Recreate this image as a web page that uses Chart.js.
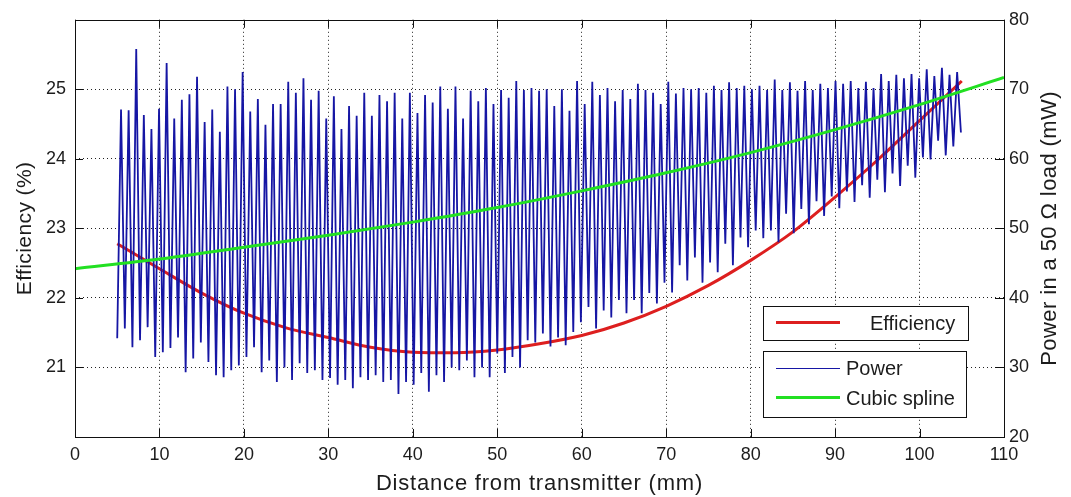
<!DOCTYPE html>
<html>
<head>
<meta charset="utf-8">
<title>Efficiency and power vs distance</title>
<script src="https://cdn.jsdelivr.net/npm/chart.js@4.4.1/dist/chart.umd.min.js"></script>
<style>
  html, body { margin: 0; padding: 0; background: #fff; }
  #wrap { width: 1071px; height: 497px; }
</style>
</head>
<body>
<div id="wrap"><canvas id="grafico" width="1071" height="497"></canvas></div>
<script>
// Efficiency (%) measured every 5 mm, left axis
const effDistance = [5, 10, 15, 20, 25, 30, 35, 40, 45, 50, 55, 60, 65, 70, 75, 80, 85, 90, 95, 100, 105];
const effValues = [22.78, 22.42, 22.07, 21.78, 21.57, 21.43, 21.29, 21.22, 21.21, 21.25, 21.34,
                   21.46, 21.64, 21.88, 22.18, 22.54, 22.95, 23.45, 23.98, 24.55, 25.12];

// Cubic spline fitted to the power trace (mW), right axis
const splineDistance = [0, 10, 20, 30, 40, 50, 60, 70, 80, 90, 100, 110];
const splineValues = [44.2, 45.6, 47.3, 49.0, 50.9, 53.0, 55.4, 58.0, 60.9, 64.2, 67.8, 71.7];

// Raw power readings (mW), one sample every 0.45 mm starting at 5 mm
const powerStart = 5;
const powerStep = 0.45;
const powerValues = [
  34.2, 67.1, 35.6, 67.0, 32.9, 75.8, 33.9, 66.3, 35.8, 64.3,
  31.5, 67.2, 32.2, 73.8, 32.8, 65.8, 34.3, 68.5, 29.3, 69.3,
  31.3, 71.8, 33.6, 65.3, 30.8, 67.1, 28.9, 63.9, 28.6, 70.4,
  29.6, 70.0, 30.3, 72.5, 31.5, 66.8, 32.9, 68.6, 29.3, 64.9,
  31.0, 67.9, 27.9, 67.9, 30.0, 71.1, 28.2, 69.5, 30.6, 71.6,
  29.2, 68.5, 29.6, 69.8, 28.2, 65.8, 28.5, 69.0, 27.5, 64.3,
  28.2, 67.6, 27.0, 66.2, 28.6, 69.5, 28.2, 66.2, 28.9, 69.2,
  27.9, 68.3, 28.2, 69.5, 26.2, 65.8, 27.9, 69.5, 27.5, 66.6,
  29.2, 69.2, 26.5, 68.1, 28.9, 70.4, 27.9, 67.2, 30.0, 70.4,
  29.6, 65.8, 31.0, 69.8, 28.6, 68.3, 30.0, 70.2, 28.6, 67.9,
  32.0, 69.9, 29.2, 68.8, 31.5, 71.2, 30.0, 69.9, 33.9, 70.2,
  33.6, 69.8, 34.9, 70.0, 33.0, 67.6, 34.3, 70.0, 33.2, 66.9,
  35.1, 71.2, 36.5, 67.9, 38.7, 71.1, 35.6, 69.2, 38.2, 70.2,
  37.2, 68.3, 39.7, 69.9, 37.8, 68.6, 39.7, 70.8, 37.8, 69.9,
  40.7, 69.5, 39.2, 67.9, 42.2, 71.1, 40.8, 69.4, 44.7, 70.2,
  42.5, 70.0, 45.8, 70.2, 42.2, 69.5, 45.1, 70.5, 43.7, 69.9,
  47.8, 71.0, 44.7, 70.2, 48.7, 70.5, 47.3, 70.0, 49.7, 70.5,
  48.6, 69.9, 49.7, 71.4, 48.0, 69.9, 52.1, 71.0, 49.3, 69.8,
  52.8, 71.2, 50.6, 69.9, 53.9, 70.8, 51.8, 70.2, 54.6, 71.2,
  52.9, 70.8, 55.3, 71.2, 53.8, 70.2, 56.2, 71.1, 54.4, 70.2,
  57.0, 72.2, 55.2, 71.2, 57.9, 72.1, 56.1, 71.6, 59.0, 72.2,
  57.3, 71.6, 60.2, 72.9, 59.9, 71.9, 62.6, 73.1, 60.5, 72.1,
  61.8, 72.5, 63.8
];

// Axis ticks
const distanceTicks = [0, 10, 20, 30, 40, 50, 60, 70, 80, 90, 100, 110];
const effTicks = [21, 22, 23, 24, 25];
const powerTicks = [20, 30, 40, 50, 60, 70, 80];

const FUENTE = '"Liberation Sans", Arial, sans-serif';
const TINTA = '#1c1c1c';
const AZUL = '#1616a4';
const ROJO = '#dd1f1f';
const VERDE = '#22e022';

const puntos = (xs, ys) => xs.map((x, i) => ({ x: x, y: ys[i] }));
const potencia = powerValues.map((v, i) => ({ x: powerStart + i * powerStep, y: v }));

// frame, inward tick marks, axis titles and the two legend boxes
const marcoMatlab = {
  id: 'marcoMatlab',
  beforeDraw(chart) {
    const ctx = chart.ctx;
    ctx.save();
    ctx.fillStyle = '#fff';
    ctx.fillRect(0, 0, chart.width, chart.height);
    ctx.restore();
  },
  afterDraw(chart) {
    const { ctx, chartArea: a, scales } = chart;
    const al = v => Math.round(v) + 0.5;
    ctx.save();
    ctx.strokeStyle = '#111';
    ctx.lineWidth = 1;
    ctx.beginPath();
    distanceTicks.forEach(t => {
      const px = al(scales.x.getPixelForValue(t));
      ctx.moveTo(px, a.top); ctx.lineTo(px, a.top + 8);
      ctx.moveTo(px, a.bottom); ctx.lineTo(px, a.bottom - 8);
    });
    effTicks.forEach(t => {
      const py = al(scales.yEff.getPixelForValue(t));
      ctx.moveTo(a.left, py); ctx.lineTo(a.left + 8, py);
    });
    powerTicks.forEach(t => {
      const py = al(scales.yPower.getPixelForValue(t));
      ctx.moveTo(a.right, py); ctx.lineTo(a.right - 9, py);
    });
    ctx.stroke();
    ctx.strokeRect(al(a.left), al(a.top), Math.round(a.right - a.left), Math.round(a.bottom - a.top));

    // legend boxes
    ctx.fillStyle = '#fff';
    ctx.fillRect(763, 306, 205, 34);
    ctx.fillRect(763, 351, 203, 66);
    ctx.strokeRect(763.5, 306.5, 205, 34);
    ctx.strokeRect(763.5, 351.5, 203, 66);

    ctx.lineCap = 'butt';
    ctx.strokeStyle = ROJO; ctx.lineWidth = 3;
    ctx.beginPath(); ctx.moveTo(776, 322.5); ctx.lineTo(840, 322.5); ctx.stroke();
    ctx.strokeStyle = AZUL; ctx.lineWidth = 1.2;
    ctx.beginPath(); ctx.moveTo(776, 368.5); ctx.lineTo(840, 368.5); ctx.stroke();
    ctx.strokeStyle = VERDE; ctx.lineWidth = 3;
    ctx.beginPath(); ctx.moveTo(776, 397.5); ctx.lineTo(840, 397.5); ctx.stroke();

    ctx.fillStyle = TINTA;
    ctx.font = '20px ' + FUENTE;
    ctx.textBaseline = 'middle';
    ctx.textAlign = 'left';
    ctx.fillText('Efficiency', 870, 324);
    ctx.fillText('Power', 846, 369);
    ctx.fillText('Cubic spline', 846, 399);

    // axis titles
    ctx.textAlign = 'center';
    ctx.font = '22px ' + FUENTE;
    ctx.letterSpacing = '0.8px';
    ctx.fillText('Distance from transmitter (mm)', (a.left + a.right) / 2, 484);
    ctx.letterSpacing = '0.4px';
    const centroY = (a.top + a.bottom) / 2;
    ctx.save();
    ctx.translate(1050, centroY);
    ctx.rotate(-Math.PI / 2);
    ctx.fillText('Power in a 50 \u03A9 load (mW)', 0, 0);
    ctx.restore();
    ctx.font = '21px ' + FUENTE;
    ctx.save();
    ctx.translate(25, centroY);
    ctx.rotate(-Math.PI / 2);
    ctx.fillText('Efficiency (%)', 0, 0);
    ctx.restore();
    ctx.letterSpacing = '0px';
    ctx.restore();
  }
};

const rejilla = {
  color: '#222',
  lineWidth: 1,
  drawTicks: false
};

new Chart(document.getElementById('grafico').getContext('2d'), {
  type: 'line',
  data: {
    datasets: [
      {
        label: 'Cubic spline',
        data: puntos(splineDistance, splineValues),
        yAxisID: 'yPower',
        borderColor: VERDE,
        borderWidth: 3,
        pointRadius: 0,
        cubicInterpolationMode: 'monotone',
        order: 1
      },
      {
        label: 'Power',
        data: potencia,
        yAxisID: 'yPower',
        borderColor: AZUL,
        borderWidth: 1.8,
        pointRadius: 0,
        tension: 0,
        order: 2
      },
      {
        label: 'Efficiency',
        data: puntos(effDistance, effValues),
        yAxisID: 'yEff',
        borderColor: ROJO,
        borderWidth: 3,
        pointRadius: 0,
        cubicInterpolationMode: 'monotone',
        order: 3
      }
    ]
  },
  options: {
    responsive: false,
    animation: false,
    layout: { padding: { top: 19, left: 0, right: 0, bottom: 0 } },
    plugins: {
      legend: { display: false },
      tooltip: { enabled: false }
    },
    scales: {
      x: {
        type: 'linear',
        min: 0,
        max: 110,
        afterFit: s => { s.height = 60; },
        afterBuildTicks: s => { s.ticks = distanceTicks.map(v => ({ value: v })); },
        ticks: { padding: 7, color: TINTA, font: { family: FUENTE, size: 18 }, maxRotation: 0 },
        grid: rejilla,
        border: { display: false, dash: [1, 3] }
      },
      yEff: {
        type: 'linear',
        position: 'left',
        min: 20,
        max: 26,
        afterFit: s => { s.width = 75; },
        afterBuildTicks: s => { s.ticks = effTicks.map(v => ({ value: v })); },
        ticks: { padding: 9, color: TINTA, font: { family: FUENTE, size: 18 } },
        grid: rejilla,
        border: { display: false, dash: [1, 3] }
      },
      yPower: {
        type: 'linear',
        position: 'right',
        min: 20,
        max: 80,
        afterFit: s => { s.width = 67; },
        afterBuildTicks: s => { s.ticks = powerTicks.map(v => ({ value: v })); },
        ticks: { padding: 5, color: TINTA, font: { family: FUENTE, size: 18 } },
        grid: { display: false, drawTicks: false },
        border: { display: false }
      }
    }
  },
  plugins: [marcoMatlab]
});
</script>
</body>
</html>
